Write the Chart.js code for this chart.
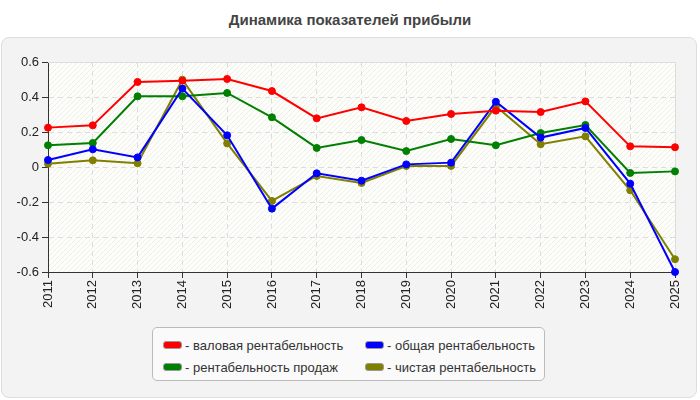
<!DOCTYPE html>
<html>
<head>
<meta charset="utf-8">
<script src="https://cdn.jsdelivr.net/npm/chart.js@4"></script>
<style>
  body { margin: 0; background: #fff; font-family: "Liberation Sans", Arial, sans-serif; }
  #wrap { position: relative; width: 700px; height: 400px; }
  #title { position: absolute; left: 0; top: 11px; width: 700px; text-align: center;
           font-weight: bold; font-size: 15px; color: #444; }
  #panel { position: absolute; left: 1px; top: 37px; width: 694px; height: 359px;
           background: #f3f3f3; border: 1px solid #ddd; border-radius: 8px; }
  #chart { position: absolute; left: 0; top: 0; }
  #legend { position: absolute; left: 152px; top: 327px; width: 393px; height: 54px;
            background: #fafafa; border: 1px solid #bbb; border-radius: 5px;
            display: grid; grid-template-columns: 202px 180px; padding: 9px 0 0 10px;
            box-sizing: border-box; row-gap: 1px; font-size: 13px; color: #333; }
  .item { display: flex; align-items: center; height: 16px; white-space: nowrap; }
  .sw { width: 17px; height: 6px; border: 1px solid #999; border-radius: 3px; margin-right: 3px; }
</style>
</head>
<body>
<div id="wrap">
  <div id="title">Динамика показателей прибыли</div>
  <div id="panel"></div>
  <canvas id="chart" width="700" height="320"></canvas>
  <div id="legend"></div>
</div>
<script>
// ==========================
// Data
// ==========================

const years = ["2011","2012","2013","2014","2015","2016","2017","2018",
               "2019","2020","2021","2022","2023","2024","2025"];

const grossMargin = [0.225, 0.238, 0.486, 0.493, 0.503, 0.434, 0.278, 0.341,
                     0.263, 0.303, 0.322, 0.314, 0.375, 0.118, 0.113];

const salesMargin = [0.124, 0.137, 0.404, 0.404, 0.423, 0.284, 0.109, 0.154,
                     0.091, 0.160, 0.124, 0.194, 0.240, -0.034, -0.025];

const totalMargin = [0.040, 0.101, 0.055, 0.448, 0.181, -0.238, -0.036, -0.078,
                     0.015, 0.025, 0.373, 0.168, 0.223, -0.095, -0.600];

const netMargin = [0.019, 0.038, 0.021, 0.499, 0.135, -0.194, -0.051, -0.091,
                   0.006, 0.006, 0.347, 0.130, 0.175, -0.133, -0.527];

const yTicks = [-0.6, -0.4, -0.2, 0, 0.2, 0.4, 0.6];


// ==========================
// Plot area background (hatched)
// ==========================

const hatch = document.createElement("canvas");
hatch.width = 5;
hatch.height = 5;
const hctx = hatch.getContext("2d");
hctx.fillStyle = "#fdfdf9";
hctx.fillRect(0, 0, 5, 5);
hctx.strokeStyle = "rgba(0,0,0,0.06)";
hctx.lineWidth = 1;
hctx.beginPath();
hctx.moveTo(-1, 6);
hctx.lineTo(6, -1);
hctx.stroke();

const areaPlugin = {
    id: "areaPlugin",
    beforeDraw(chart) {
        const a = chart.chartArea;
        const c = chart.ctx;
        c.save();
        c.fillStyle = c.createPattern(hatch, "repeat");
        c.fillRect(a.left, a.top, a.right - a.left, a.bottom - a.top);
        c.restore();
    },
    beforeDatasetsDraw(chart) {
        const a = chart.chartArea;
        const c = chart.ctx;
        c.save();
        c.strokeStyle = "#dddddd";
        c.lineWidth = 1;
        c.beginPath();
        c.moveTo(a.left, a.top + 0.5);
        c.lineTo(a.right + 0.5, a.top + 0.5);
        c.lineTo(a.right + 0.5, a.bottom);
        c.stroke();
        c.restore();
    }
};


// ==========================
// Chart
// ==========================

Chart.defaults.font.family = "'Liberation Sans', Arial, sans-serif";
Chart.defaults.font.size = 13;
Chart.defaults.color = "#222";

function series(label, data, color) {
    return {
        label: label,
        data: data,
        borderColor: color,
        backgroundColor: color,
        pointBackgroundColor: color,
        pointBorderColor: color,
        borderWidth: 2,
        pointRadius: 3.5,
        pointBorderWidth: 1,
        tension: 0,
        clip: false
    };
}

const ctx = document.getElementById("chart");

const chart = new Chart(ctx, {
    type: "line",
    data: {
        labels: years,
        datasets: [
            series("- валовая рентабельность", grossMargin, "#ff0000"),
            series("- общая рентабельность", totalMargin, "#0000ff"),
            series("- рентабельность продаж", salesMargin, "#008000"),
            series("- чистая рентабельность", netMargin, "#808000")
        ]
    },
    options: {
        responsive: false,
        animation: false,
        layout: { padding: { top: 62, right: 25, left: 0, bottom: 0 } },
        plugins: {
            legend: { display: false },
            tooltip: { enabled: false }
        },
        scales: {
            x: {
                offset: false,
                grid: {
                    color: "#dddddd",
                    tickColor: "#333333",
                    tickLength: 6,
                    tickBorderDash: []
                },
                border: { color: "#333333", width: 1, dash: [5, 4] },
                ticks: {
                    minRotation: 90,
                    maxRotation: 90,
                    padding: 2,
                    autoSkip: false,
                    color: "#222"
                },
                afterFit(scale) { scale.height = 48; }
            },
            y: {
                min: yTicks[0],
                max: yTicks[yTicks.length - 1],
                afterBuildTicks(scale) {
                    scale.ticks = yTicks.map(v => ({ value: v }));
                },
                grid: {
                    color: "#dddddd",
                    tickColor: "#333333",
                    tickLength: 6,
                    tickBorderDash: []
                },
                border: { color: "#333333", width: 1, dash: [5, 4] },
                ticks: {
                    padding: 3,
                    color: "#222",
                    callback: v => String(Math.round(v * 10) / 10)
                },
                afterFit(scale) { scale.width = 48; }
            }
        }
    },
    plugins: [areaPlugin]
});


// ==========================
// Legend (two columns, boxed)
// ==========================

const legend = document.getElementById("legend");
[0, 1, 2, 3].forEach(i => {
    const ds = chart.data.datasets[i];
    const item = document.createElement("div");
    item.className = "item";
    const sw = document.createElement("span");
    sw.className = "sw";
    sw.style.background = ds.borderColor;
    item.appendChild(sw);
    item.appendChild(document.createTextNode(ds.label));
    legend.appendChild(item);
});
</script>
</body>
</html>
